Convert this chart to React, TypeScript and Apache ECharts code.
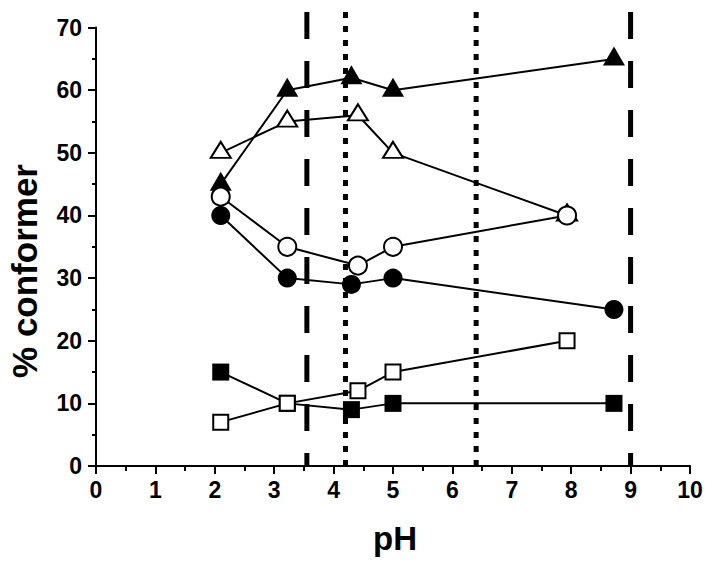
import React, { useEffect, useRef } from "react";
import * as echarts from "echarts";

const phA = [2.1, 3.22, 4.3, 5.0, 8.72];
const phB = [2.1, 3.22, 4.41, 5.0, 7.93];

const filledTriangle = [45, 60, 62, 60, 65];
const openTriangle = [50, 55, 56, 50, 40];
const openCircle = [43, 35, 32, 35, 40];
const filledCircle = [40, 30, 29, 30, 25];
const filledSquare = [15, 10, 9, 10, 10];
const openSquare = [7, 10, 12, 15, 20];

const dashedLinesX = [3.55, 9.0];
const dottedLinesX = [4.2, 6.4];
const refLineTop = 72.5;

const FONT = "'Liberation Sans', Arial, Helvetica, sans-serif";

function pts(xs: number[], ys: number[]) {
  return xs.map((x, i) => [x, ys[i]]);
}

export default function App() {
  const ref = useRef<HTMLDivElement>(null);
  useEffect(() => {
    document.body.style.margin = "0";
    if (!ref.current) return;
    const chart = echarts.init(ref.current, null, { renderer: "svg" });

    const mk = (
      name: string,
      data: number[][],
      symbol: string,
      size: number | number[],
      filled: boolean,
      offset: number[] = [0, 0]
    ) => ({
      name,
      type: "line",
      data,
      symbol,
      symbolSize: size,
      symbolOffset: offset,
      showSymbol: true,
      lineStyle: { color: "#000", width: 2 },
      itemStyle: {
        color: filled ? "#000" : "#fff",
        borderColor: "#000",
        borderWidth: filled ? 0 : 2,
      },
      z: 5,
    });

    const refLine = (x: number, dash: number[], id: string) => ({
      name: id,
      type: "line",
      data: [
        [x, refLineTop],
        [x, 0],
      ],
      symbol: "none",
      clip: false,
      lineStyle: { color: "#000", width: 5, type: dash, cap: "butt" },
      z: 3,
      silent: true,
    });

    chart.setOption({
      animation: false,
      grid: { left: 96, right: 24, top: 27.6, bottom: 102 },
      xAxis: {
        type: "value",
        min: 0,
        max: 10,
        interval: 1,
        axisLine: { show: true, lineStyle: { color: "#000", width: 2 } },
        axisTick: { show: true, length: 8, lineStyle: { color: "#000", width: 2 } },
        minorTick: { show: true, splitNumber: 2, length: 5, lineStyle: { color: "#000", width: 2 } },
        splitLine: { show: false },
        axisLabel: {
          color: "#000",
          fontSize: 23,
          fontWeight: "bold",
          fontFamily: FONT,
          margin: 12,
        },
      },
      yAxis: {
        type: "value",
        min: 0,
        max: 70,
        interval: 10,
        axisLine: { show: true, lineStyle: { color: "#000", width: 2 } },
        axisTick: { show: true, length: 8, lineStyle: { color: "#000", width: 2 } },
        minorTick: { show: true, splitNumber: 2, length: 4, lineStyle: { color: "#000", width: 2 } },
        splitLine: { show: false },
        axisLabel: {
          color: "#000",
          fontSize: 23,
          fontWeight: "bold",
          fontFamily: FONT,
          margin: 14,
        },
      },
      graphic: [
        {
          type: "text",
          x: 395,
          y: 538,
          style: {
            text: "pH",
            fill: "#000",
            font: `bold 33px ${FONT}`,
            textAlign: "center",
            textVerticalAlign: "middle",
          },
        },
        {
          type: "text",
          x: 24,
          y: 271,
          rotation: Math.PI / 2,
          style: {
            text: "% conformer",
            fill: "#000",
            font: `bold 35px ${FONT}`,
            textAlign: "center",
            textVerticalAlign: "middle",
          },
        },
      ],
      series: [
        refLine(dashedLinesX[0], [27, 22], "d1"),
        refLine(dashedLinesX[1], [27, 22], "d2"),
        refLine(dottedLinesX[0], [6, 8], "p1"),
        refLine(dottedLinesX[1], [6, 8], "p2"),
        mk("filledTriangle", pts(phA, filledTriangle), "triangle", [22, 19], true, [0, -3]),
        mk("openTriangle", pts(phB, openTriangle), "triangle", [20, 16], false, [0, -3]),
        mk("openCircle", pts(phB, openCircle), "circle", 18, false),
        mk("filledCircle", pts(phA, filledCircle), "circle", 19, true),
        mk("filledSquare", pts(phA, filledSquare), "rect", 17, true),
        mk("openSquare", pts(phB, openSquare), "rect", 15, false),
      ],
    });
    return () => chart.dispose();
  }, []);
  return <div ref={ref} style={{ width: 714, height: 568 }} />;
}
